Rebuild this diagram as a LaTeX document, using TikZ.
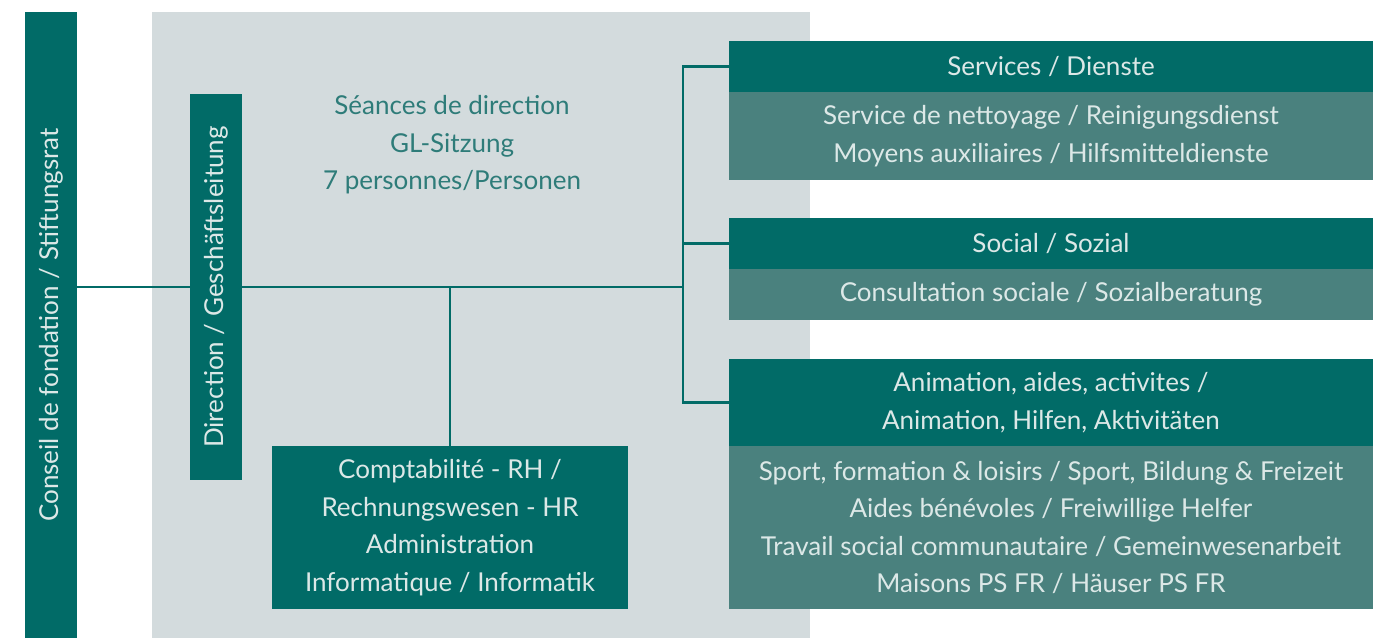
\documentclass[tikz,border=0pt]{standalone}
\usepackage{fontspec}
\setmainfont{Lato}
\usetikzlibrary{backgrounds}
\pgfdeclarelayer{bgzero}
\pgfsetlayers{bgzero,background,main}
\definecolor{tealD}{HTML}{016B67}
\definecolor{tealL}{HTML}{4A817E}
\definecolor{grayBg}{HTML}{D3DBDD}
\definecolor{txtL}{HTML}{DCE8E7}
\definecolor{txtT}{HTML}{2E7C79}
\newcommand{\fsz}{\fontsize{26}{37.6}\selectfont}
\tikzset{
  box/.style={inner sep=0pt, align=center, font=\fsz, text=txtL},
  darkbox/.style={box, fill=tealD},
  lightbox/.style={box, fill=tealL},
  conn/.style={draw=tealD, line width=2.5pt},
}
\begin{document}
\begin{tikzpicture}[x=1pt,y=-1pt]
\useasboundingbox (0,0) rectangle (1373,638);
% gray area
\begin{pgfonlayer}{bgzero}
\node[fill=grayBg, inner sep=0pt, minimum width=658pt, minimum height=626pt] (gl) at (481,325) {};
\end{pgfonlayer}
\node[box, text=txtT] (seance) at (452,145) {Séances de direction\\GL-Sitzung\\7 personnes/Personen};
% vertical bars
\node[darkbox, minimum width=626pt, minimum height=52pt, rotate=90] (conseil) at (51,325) {Conseil de fondation / Stiftungsrat};
\node[darkbox, minimum width=386pt, minimum height=52pt, rotate=90] (dir) at (216,287) {Direction / Geschäftsleitung};
% comptabilite
\node[darkbox, minimum width=356pt, minimum height=163pt] (comp) at (450,527.5) {Comptabilité - RH /\\Rechnungswesen - HR\\Administration\\Informatique / Informatik};
% right boxes
\node[darkbox, minimum width=644pt, minimum height=51pt] (serv) at (1051,66.5) {Services / Dienste};
\node[lightbox, minimum width=644pt, minimum height=88pt] (servb) at (1051,136) {Service de nettoyage / Reinigungsdienst\\Moyens auxiliaires / Hilfsmitteldienste};
\node[darkbox, minimum width=644pt, minimum height=51pt] (soc) at (1051,243.5) {Social / Sozial};
\node[lightbox, minimum width=644pt, minimum height=51pt] (socb) at (1051,294.5) {Consultation sociale / Sozialberatung};
\node[darkbox, minimum width=644pt, minimum height=87pt] (anim) at (1051,402.5) {Animation, aides, activites /\\Animation, Hilfen, Aktivitäten};
\node[lightbox, minimum width=644pt, minimum height=163pt] (animb) at (1051,527.5) {Sport, formation \& loisirs / Sport, Bildung \& Freizeit\\Aides bénévoles / Freiwillige Helfer\\Travail social communautaire / Gemeinwesenarbeit\\Maisons PS FR / Häuser PS FR};
% connectors
\coordinate (j) at (683,287);
\begin{pgfonlayer}{background}
\draw[conn] (conseil.south |- j) -- (j);
\end{pgfonlayer}
\draw[conn] (serv.west) -| (j) |- (anim.west);
\draw[conn] (j |- soc.west) -- (soc.west);
\draw[conn] (comp.north) -- (comp.north |- j);
\end{tikzpicture}
\end{document}
